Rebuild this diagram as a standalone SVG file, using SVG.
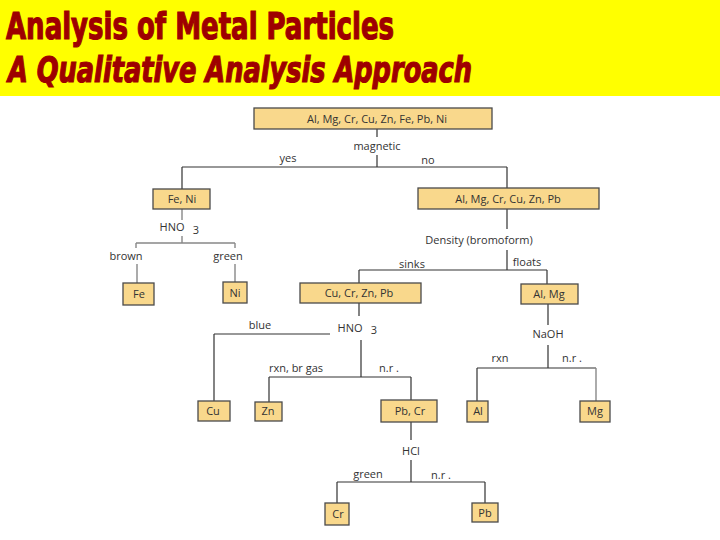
<svg xmlns="http://www.w3.org/2000/svg" width="720" height="540" viewBox="0 0 720 540">
<style>
.hdr{fill:#9e0000;stroke:#9e0000;stroke-width:1.2;font-family:"DejaVu Sans Condensed","Liberation Sans",sans-serif;font-weight:bold}
.box{fill:#f9d88c;stroke:#4a4a4a;stroke-width:1.3}
.t{font-family:"Open Sans","Liberation Sans",sans-serif;font-size:11px;fill:#333;text-anchor:middle}
.lbl{font-family:"Open Sans","Liberation Sans",sans-serif;font-size:11px;fill:#333;text-anchor:middle}
.ln{stroke:#333;stroke-width:1.2;fill:none}
.lg{stroke:#888;stroke-width:1.4;fill:none}
</style>
<rect x="0" y="0" width="720" height="540" fill="#fff"/>
<g id="header">
<rect x="0" y="0" width="720" height="96" fill="#ffff00"/>
<text class="hdr" x="6" y="39" font-size="38" textLength="388" lengthAdjust="spacingAndGlyphs">Analysis of Metal Particles</text>
<text class="hdr" x="8" y="82" font-size="36" font-style="italic" textLength="464" lengthAdjust="spacingAndGlyphs">A Qualitative Analysis Approach</text>
</g>
<g id="connectors">
<path class="ln" d="M377,129 V137 M377,155 V167 M182,167 H507 M182,167 V189 M507,167 V188"/>
<path class="lg" d="M182,209 V220 M182,236 V243 M136,243 H235 M136,243 V248 M235,243 V248 M137,264 V283 M235,264 V282"/>
<path class="ln" d="M507,209 V229 M507,250 V270 M359,270 H547 M359,270 V283 M547,270 V284"/>
<path class="ln" d="M359,303 V316 M361,340 V377 M214,334 H330 M214,334 V401 M269,377 H411 M269,377 V402 M411,377 V400"/>
<path class="ln" d="M411,422 V440 M411,460 V482 M337,482 H485 M337,482 V503 M485,482 V503"/>
<path class="ln" d="M548,304 V325 M548,345 V368 M477,368 H596 M477,368 V401"/>
<path class="lg" d="M596,368 V401"/>
</g>
<g id="labels">
<text class="lbl" x="377" y="150">magnetic</text>
<text class="lbl" x="288" y="162">yes</text>
<text class="lbl" x="428" y="164">no</text>
<text class="lbl" x="172" y="231">HNO</text>
<text class="lbl" x="196" y="234">3</text>
<text class="lbl" x="126" y="260">brown</text>
<text class="lbl" x="228" y="260">green</text>
<text class="lbl" x="479" y="244">Density (bromoform)</text>
<text class="lbl" x="412" y="268">sinks</text>
<text class="lbl" x="527" y="266">floats</text>
<text class="lbl" x="350" y="332">HNO</text>
<text class="lbl" x="374" y="334">3</text>
<text class="lbl" x="260" y="329">blue</text>
<text class="lbl" x="296" y="372">rxn, br gas</text>
<text class="lbl" x="389" y="372">n.r .</text>
<text class="lbl" x="411" y="455">HCl</text>
<text class="lbl" x="368" y="478">green</text>
<text class="lbl" x="441" y="479">n.r .</text>
<text class="lbl" x="548" y="338">NaOH</text>
<text class="lbl" x="500" y="362">rxn</text>
<text class="lbl" x="572" y="362">n.r .</text>
</g>
<g id="n-all"><rect class="box" x="254" y="108" width="238" height="21"/><text class="t" x="377" y="123">Al, Mg, Cr, Cu, Zn, Fe, Pb, Ni</text></g>
<g id="n-feni"><rect class="box" x="153" y="189" width="57" height="20"/><text class="t" x="182" y="203">Fe, Ni</text></g>
<g id="n-nonmag"><rect class="box" x="418" y="188" width="181" height="21"/><text class="t" x="508" y="203">Al, Mg, Cr, Cu, Zn, Pb</text></g>
<g id="n-fe"><rect class="box" x="123" y="283" width="31" height="22"/><text class="t" x="139" y="298">Fe</text></g>
<g id="n-ni"><rect class="box" x="223" y="282" width="24" height="21"/><text class="t" x="235" y="297">Ni</text></g>
<g id="n-sinks"><rect class="box" x="300" y="283" width="121" height="20"/><text class="t" x="359" y="297">Cu, Cr, Zn, Pb</text></g>
<g id="n-almg"><rect class="box" x="521" y="284" width="57" height="20"/><text class="t" x="549" y="298">Al, Mg</text></g>
<g id="n-cu"><rect class="box" x="198" y="401" width="32" height="20"/><text class="t" x="213" y="415">Cu</text></g>
<g id="n-zn"><rect class="box" x="255" y="402" width="27" height="19"/><text class="t" x="268" y="415">Zn</text></g>
<g id="n-pbcr"><rect class="box" x="381" y="400" width="56" height="22"/><text class="t" x="410" y="415">Pb, Cr</text></g>
<g id="n-al"><rect class="box" x="467" y="401" width="21" height="21"/><text class="t" x="478" y="415">Al</text></g>
<g id="n-mg"><rect class="box" x="580" y="401" width="30" height="21"/><text class="t" x="595" y="415">Mg</text></g>
<g id="n-cr"><rect class="box" x="325" y="503" width="24" height="22"/><text class="t" x="338" y="518">Cr</text></g>
<g id="n-pb"><rect class="box" x="472" y="503" width="26" height="19"/><text class="t" x="485" y="517">Pb</text></g>
</svg>
